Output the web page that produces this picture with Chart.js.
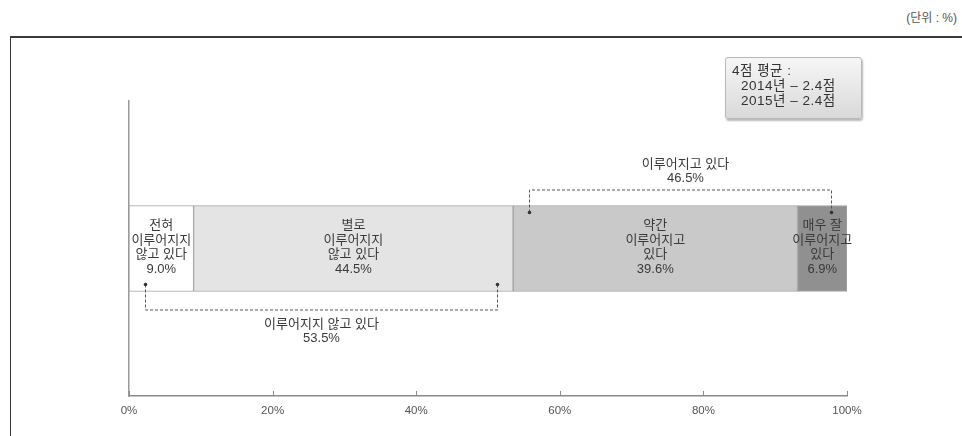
<!DOCTYPE html>
<html lang="ko">
<head>
<meta charset="utf-8">
<script src="https://cdn.jsdelivr.net/npm/chart.js@4/dist/chart.umd.min.js"></script>
<style>
  html, body { margin: 0; padding: 0; background: #fff; }
  body { width: 962px; height: 436px; position: relative; overflow: hidden;
         font-family: "Liberation Sans", "Noto Sans CJK KR", sans-serif; color: #3a3a3a; }
  #frame { position: absolute; left: 10px; top: 36px; width: 960px; height: 410px;
           border-top: 2px solid #3a3a3a; border-left: 1.5px solid #3a3a3a; box-sizing: border-box; }
  #unit { position: absolute; right: 5px; top: 8px; font-size: 12px; color: #555; }
  #avg { position: absolute; left: 725px; top: 57px; width: 137px; height: 62px; box-sizing: border-box;
         border: 1px solid #b8b8b8; border-radius: 3px;
         background: linear-gradient(#f6f6f6, #d9d9d9);
         box-shadow: 1px 2px 2px rgba(0,0,0,0.28);
         font-size: 13.5px; line-height: 15px; letter-spacing: 0.5px;
         padding: 5px 0 0 6px; color: #333; white-space: nowrap; }
  #avg .row { padding-left: 9px; }
  #wrap { position: absolute; left: 0; top: 0; width: 962px; height: 436px; }
</style>
</head>
<body>
<div id="frame"></div>
<div id="unit"></div>
<div id="wrap"><canvas id="c" width="962" height="436"></canvas></div>
<div id="avg"></div>
<script>
// Survey categories (one stacked bar)
const categories = [''];
const segmentLines = [
  ['전혀', '이루어지지', '않고 있다'],
  ['별로', '이루어지지', '않고 있다'],
  ['약간', '이루어지고', '있다'],
  ['매우 잘', '이루어지고', '있다']
];
const segmentValues = [9.0, 44.5, 39.6, 6.9];
const xTickValues = [0, 20, 40, 60, 80, 100];

// Grouped totals shown with dashed brackets
const groupLabels = ['이루어지지 않고 있다', '이루어지고 있다'];
const groupMembers = [[0, 1], [2, 3]];

// 4-point average scores
const avgTitle = '4점 평균 :';
const avgYears = ['2014년', '2015년'];
const avgScores = [2.4, 2.4];
const unitText = '(단위 : %)';

const segmentColors = ['#ffffff', '#e4e4e4', '#c9c9c9', '#909090'];
const FONT = '"Liberation Sans", "Noto Sans CJK KR", sans-serif';

document.getElementById('unit').textContent = unitText;
const avgBox = document.getElementById('avg');
avgBox.innerHTML = '<div>' + avgTitle + '</div>' +
  avgYears.map((y, i) => '<div class="row">' + y + ' \u2013 ' + avgScores[i].toFixed(1) + '점</div>').join('');

const datasets = segmentValues.map((v, i) => ({
  label: segmentLines[i].join(' '),
  data: [v],
  backgroundColor: segmentColors[i],
  borderColor: '#a3a3a3',
  borderWidth: 1,
  borderSkipped: false,
  barThickness: 86
}));

// Labels inside each segment, upward tick marks and group brackets
const annotate = {
  id: 'annotate',
  afterDatasetsDraw(chart) {
    const ctx = chart.ctx;
    const xs = chart.scales.x;
    ctx.save();
    ctx.fillStyle = '#3a3a3a';
    ctx.font = '13px ' + FONT;
    ctx.textAlign = 'center';
    ctx.textBaseline = 'middle';
    const lh = 14.5;
    let barTop = 0, barBottom = 0;
    segmentValues.forEach((v, i) => {
      const el = chart.getDatasetMeta(i).data[0];
      const cx = (el.x + el.base) / 2;
      barTop = el.y - el.height / 2;
      barBottom = el.y + el.height / 2;
      const lines = segmentLines[i].concat([v.toFixed(1) + '%']);
      const y0 = el.y - 1 - lh * (lines.length - 1) / 2;
      lines.forEach((t, k) => ctx.fillText(t, cx, y0 + k * lh));
    });

    // tick marks pointing up into the plot
    ctx.strokeStyle = '#8a8a8a';
    ctx.lineWidth = 1;
    const b = chart.chartArea.bottom;
    xTickValues.forEach(t => {
      const x = Math.round(xs.getPixelForValue(t)) + 0.5;
      ctx.beginPath(); ctx.moveTo(x, b); ctx.lineTo(x, b - 5); ctx.stroke();
    });

    // dashed brackets for grouped totals
    const inset = 2.2;
    let start = 0;
    groupMembers.forEach((members, g) => {
      const total = members.reduce((s, m) => s + segmentValues[m], 0);
      const from = start + inset, to = start + total - inset;
      start += total;
      const x1 = Math.round(xs.getPixelForValue(from)) + 0.5;
      const x2 = Math.round(xs.getPixelForValue(to)) + 0.5;
      const below = g === 0;
      const dotY = below ? barBottom - 7 : barTop + 7;
      const lineY = (below ? barBottom + 18 : barTop - 16) + 0.5;
      ctx.strokeStyle = '#555';
      ctx.setLineDash([3, 2]);
      ctx.beginPath();
      ctx.moveTo(x1, dotY); ctx.lineTo(x1, lineY); ctx.lineTo(x2, lineY); ctx.lineTo(x2, dotY);
      ctx.stroke();
      ctx.setLineDash([]);
      ctx.fillStyle = '#333';
      [x1, x2].forEach(x => { ctx.beginPath(); ctx.arc(x, dotY, 1.8, 0, Math.PI * 2); ctx.fill(); });
      ctx.fillStyle = '#3a3a3a';
      const cx = (x1 + x2) / 2 + (below ? 0 : 5);
      const ly = below ? lineY + 14 : lineY - 26;
      ctx.fillText(groupLabels[g], cx, ly);
      ctx.fillText(total.toFixed(1) + '%', cx, ly + 14);
    });
    ctx.restore();
  }
};

new Chart(document.getElementById('c'), {
  type: 'bar',
  data: { labels: categories, datasets },
  options: {
    indexAxis: 'y',
    responsive: false,
    animation: false,
    layout: { padding: { left: 129, right: 115, top: 101, bottom: 0 } },
    plugins: { legend: { display: false }, tooltip: { enabled: false } },
    scales: {
      x: {
        stacked: true, min: 0, max: 100,
        afterBuildTicks(scale) { scale.ticks = xTickValues.map(v => ({ value: v })); },
        afterFit(scale) { scale.height = 40; },
        grid: { display: false, drawTicks: false },
        border: { display: true, color: '#8a8a8a', width: 1.5 },
        ticks: { padding: 8, color: '#555', font: { family: FONT, size: 11.5 },
                 maxRotation: 0, callback: v => v + '%' }
      },
      y: {
        stacked: true,
        afterFit(scale) { scale.width = 0; },
        grid: { display: false, drawTicks: false },
        border: { display: true, color: '#9a9a9a', width: 1.5 },
        ticks: { display: false }
      }
    }
  },
  plugins: [annotate]
});
</script>
</body>
</html>
